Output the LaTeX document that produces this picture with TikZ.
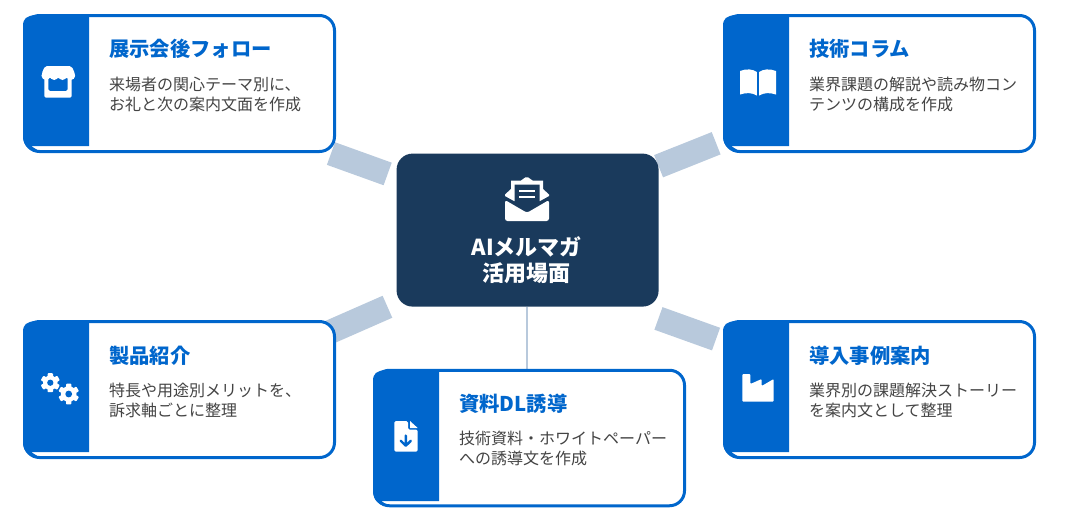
\documentclass[tikz,border=0pt]{standalone}
\usepackage{fontspec}
\usetikzlibrary{backgrounds}
\setmainfont{Noto Sans CJK JP}
\definecolor{bleu}{HTML}{0066CC}
\definecolor{marine}{HTML}{1A3A5C}
\definecolor{lien}{HTML}{B8C9DC}
\definecolor{gris}{HTML}{444444}
\begin{document}
\begin{tikzpicture}[x=1pt,y=-1pt]
	\tikzstyle{carte}=[draw=bleu,line width=3pt,fill=white,rounded corners=15pt,minimum width=310pt,minimum height=136pt,inner sep=0pt,outer sep=0pt]
	\tikzstyle{centre}=[fill=marine,rounded corners=16pt,minimum width=262pt,minimum height=153pt,inner sep=0pt,outer sep=0pt]
	\tikzstyle{barre}=[draw=lien,line width=24pt]
	\tikzstyle{trait}=[draw=lien,line width=2pt]
	\tikzstyle{titre}=[anchor=base west,inner sep=0pt,text=bleu,font=\fontsize{20.3}{24}\selectfont\bfseries]
	\tikzstyle{texte}=[anchor=west,inner sep=0pt,align=left,text=gris,font=\fontsize{16}{19.2}\selectfont]
	\tikzstyle{etiquette}=[inner sep=0pt,align=center,text=white,font=\fontsize{22}{25.6}\selectfont\bfseries]
	\tikzstyle{icone}=[fill=white]
	\tikzstyle{creux}=[fill=bleu]
	\def\ColonneG{179.5}
	\def\ColonneM{529.5}
	\def\ColonneD{879.5}
	\def\LigneH{83.5}
	\def\LigneB{389.5}
	\def\Bandeau#1#2{\fill[bleu,shift={(#1,#2)}] (66,1) -- (12,1) .. controls (4,2) and (0,4) .. (0,12) -- (0,121) .. controls (0,130) and (4,135) .. (12,137) -- (16,137) -- (8,132) -- (66,132) -- cycle;}
	\def\Engrenage#1#2#3{%
		\foreach \a in {0,60,120} \fill[icone,shift={(#1,#2)},rotate=\a,rounded corners=0.8pt] (-2.7,-#3) rectangle (2.7,#3);
		\fill[icone] (#1,#2) circle ({0.76*#3});
		\fill[creux] (#1,#2) circle ({0.33*#3});}
	\useasboundingbox (0,0) rectangle (1067,512);
	\node[centre] (Hub) at (527.6,230.1) {};
	\node[carte] (Ca) at (\ColonneG,\LigneH) {};
	\node[carte] (Cb) at (\ColonneD,\LigneH) {};
	\node[carte] (Cc) at (\ColonneG,\LigneB) {};
	\node[carte] (Cd) at (\ColonneD,\LigneB) {};
	\node[carte,minimum height=135.5pt] (Ce) at (\ColonneM,438) {};
	\coordinate (Pied) at (527,0);
	\Bandeau{23}{14}
	\Bandeau{723}{14}
	\Bandeau{23}{320}
	\Bandeau{723}{320}
	\Bandeau{373}{369}
	% liaisons
	\begin{scope}[on background layer]
		\draw[barre,shorten <=9.5pt,shorten >=6pt] (Hub.158.5)--(Ca.-25.5);
		\draw[barre,shorten <=0pt,shorten >=9pt] (Hub.26.5)--(Cb.200.1);
		\draw[barre,shorten <=10pt,shorten >=-6pt] (Hub.209.5)--(Cc.21.9);
		\draw[barre,shorten <=35pt,shorten >=9pt] (Hub.-38.4)--(Cd.163.3);
		\draw[trait] (Hub.south -| Pied)--(Ce.north -| Pied);
	\end{scope}
	% centre
	\fill[icone] (505,194.5) -- (511,189) -- (511,180.5) -- (521,180.5) -- (525.5,177.3) -- (528,177.3) -- (532.5,180.5) -- (543,180.5) -- (543,189) -- (549,194.5) -- (549,196) -- (540,201) -- (514,201) -- (505,196) -- cycle;
	\fill[fill=marine] (514.5,184.5) -- (539.5,184.5) -- (539.5,206) -- (527,213) -- (514.5,206) -- cycle;
	\fill[icone,rounded corners=2.5pt] (505,200) -- (527,212.8) -- (549,200) -- (549,221) -- (505,221) -- cycle;
	\fill[icone] (519,189.7) rectangle (534.5,192);
	\fill[icone] (519,195.7) rectangle (534.5,198);
	\node[etiquette] (HubTexte) at (526.8,260.3) {AIメルマガ\\活用場面};
	% textes
	\node[titre] (TitreA) at (109,56.3) {展示会後フォロー};
	\node[texte] (TexteA) at (109,94.5) {来場者の関心テーマ別に、\\お礼と次の案内文面を作成};
	\node[titre] (TitreB) at (809,56.3) {技術コラム};
	\node[texte] (TexteB) at (809,94.5) {業界課題の解説や読み物コン\\テンツの構成を作成};
	\node[titre] (TitreC) at (109,363.3) {製品紹介};
	\node[texte] (TexteC) at (109,400.5) {特長や用途別メリットを、\\訴求軸ごとに整理};
	\node[titre] (TitreD) at (809,363.3) {導入事例案内};
	\node[texte] (TexteD) at (809,400.5) {業界別の課題解決ストーリー\\を案内文として整理};
	\node[titre] (TitreE) at (459,411.5) {資料DL誘導};
	\node[texte] (TexteE) at (459,448.5) {技術資料・ホワイトペーパー\\への誘導文を作成};
	% magasin
	\fill[icone,even odd rule,rounded corners=1.5pt] (44.3,74) rectangle (71.7,97.7) (48.3,72) rectangle (67.5,91);
	\fill[icone,rounded corners=2pt] (45,66) -- (71.5,66) -- (75,73.5) -- (75,78) -- (41.7,78) -- (41.7,73.5) -- cycle;
	\foreach \x in {45.9,54.2,62.5,70.8} \fill[icone] (\x,75.8) circle (4.2);
	% livre
	\fill[icone] (740,71) .. controls (746,68.5) and (753,69) .. (756.8,72) -- (756.8,95.5) .. controls (752,92.5) and (746,92.5) .. (740,94.5) -- cycle;
	\fill[icone] (776,71) .. controls (770,68.5) and (763,69) .. (759.2,72) -- (759.2,95.5) .. controls (764,92.5) and (770,92.5) .. (776,94.5) -- cycle;
	% engrenages
	\Engrenage{50.3}{382.7}{9.5}
	\Engrenage{68.7}{394}{10.3}
	% usine
	\fill[icone,rounded corners=1pt] (742.3,374) -- (750.3,374) -- (750.3,384) -- (761.7,379) -- (761.7,386) -- (773.7,379) -- (773.7,401.7) -- (742.3,401.7) -- cycle;
	% fichier
	\fill[icone,rounded corners=1.5pt] (394.3,421) -- (408,421) -- (408,429.5) -- (417.7,429.5) -- (417.7,451.7) -- (394.3,451.7) -- cycle;
	\fill[icone] (410,421) -- (417.7,428) -- (410,428) -- cycle;
	\draw[bleu,line width=2.4pt,line cap=round,line join=round] (405.8,435.5) -- (405.8,445.5) (400.8,440.8) -- (405.8,445.7) -- (410.8,440.8);
\end{tikzpicture}
\end{document}
